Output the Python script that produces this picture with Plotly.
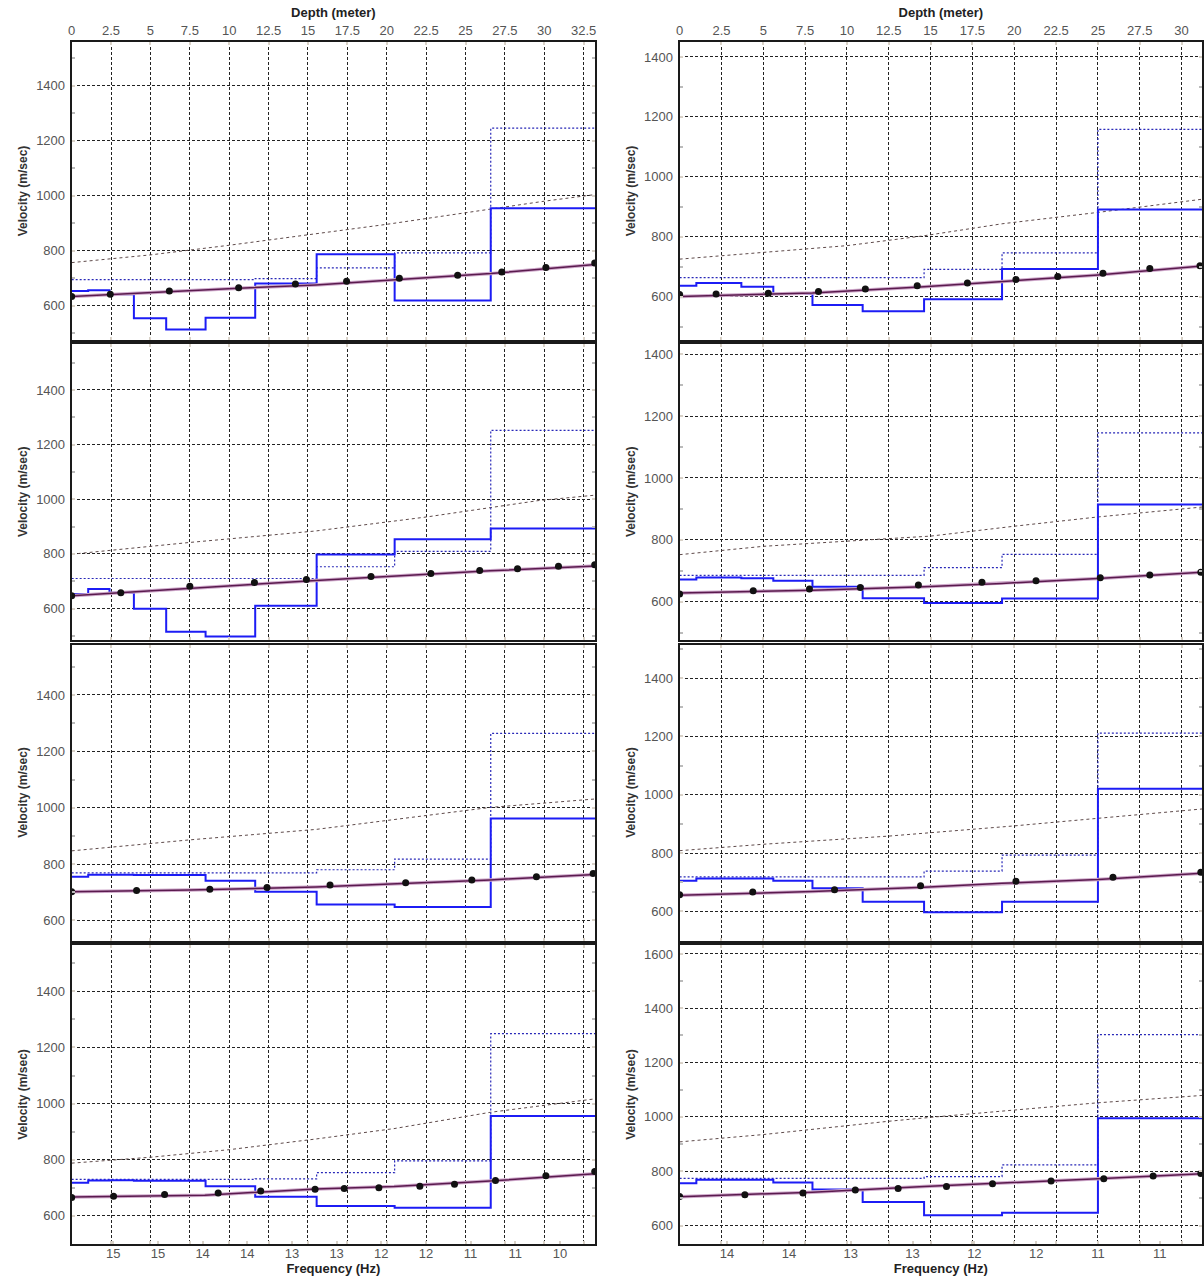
import plotly.graph_objects as go

# ---------------- data ----------------
# layer tops (depth, m) of the step models
LEFT_TOPS = [0, 1.05, 2.4, 3.95, 6.0, 8.5, 11.65, 15.55, 20.5, 26.6]
RIGHT_TOPS = [0, 1.0, 3.69, 5.6, 7.94, 10.94, 14.61, 19.27, 25.0]

# final model (solid blue), m/sec
L1_VS = [654, 657, 642, 555, 514, 557, 681, 787, 619, 954]
L2_VS = [653, 672, 658, 599, 515, 498, 610, 798, 854, 893]
L3_VS = [755, 762, 762, 761, 761, 741, 702, 657, 648, 962]
L4_VS = [718, 726, 727, 725, 725, 706, 668, 635, 629, 956]
R1_VS = [636, 645, 633, 609, 572, 551, 591, 692, 891]
R2_VS = [672, 678, 676, 668, 648, 611, 596, 610, 914]
R3_VS = [705, 713, 713, 705, 679, 633, 597, 633, 1020]
R4_VS = [756, 769, 769, 758, 733, 687, 638, 647, 995]

# initial model (dotted blue), m/sec
L1_INIT = [695, 695, 695, 695, 695, 695, 699, 738, 792, 1245]
L2_INIT = [710, 710, 710, 710, 710, 710, 710, 753, 809, 1252]
L3_INIT = [769, 769, 769, 769, 769, 769, 769, 780, 818, 1264]
L4_INIT = [730, 730, 730, 730, 730, 730, 732, 754, 796, 1249]
R1_INIT = [663, 663, 663, 663, 663, 663, 691, 746, 1158]
R2_INIT = [685, 685, 685, 685, 685, 685, 710, 753, 1146]
R3_INIT = [718, 718, 718, 718, 718, 718, 738, 793, 1211]
R4_INIT = [774, 774, 774, 774, 774, 774, 780, 823, 1303]

# upper dashed curve (depth, velocity)
L1_UP_D = [0, 5, 10, 15, 20, 25, 30, 33.22]
L1_UP_V = [757, 785, 820, 857, 896, 938, 980, 1004]
L2_UP_D = [0, 7.5, 15.5, 22.5, 29.6, 33.22]
L2_UP_V = [799, 842, 884, 935, 995, 1015]
L3_UP_D = [0, 7.5, 15.5, 26.56, 33.22]
L3_UP_V = [847, 886, 923, 1001, 1031]
L4_UP_D = [0, 5, 10, 15.5, 20.46, 26.56, 33.22]
L4_UP_V = [788, 809, 836, 874, 911, 969, 1017]
R1_UP_D = [0, 7.5, 10, 14.61, 19.27, 25, 31.22]
R1_UP_V = [725, 759, 770, 803, 843, 881, 925]
R2_UP_D = [0, 5, 12.5, 15, 20, 25, 31.22]
R2_UP_V = [752, 779, 804, 812, 844, 874, 906]
R3_UP_D = [0, 5, 12.5, 20, 25, 31.22]
R3_UP_V = [808, 830, 858, 893, 919, 951]
R4_UP_D = [0, 5, 12.5, 15.3, 25, 31.22]
R4_UP_V = [908, 935, 984, 1000, 1052, 1079]

# theoretical dispersion curve (purple)
L1_TH_D = [0, 2.4, 6, 10.6, 15.5, 20.5, 26.6, 33.22]
L1_TH_V = [634, 641, 652, 664, 676, 695, 717, 750]
L2_TH_D = [0, 7.5, 15.5, 26.56, 33.22]
L2_TH_V = [647, 675, 703, 738, 756]
L3_TH_D = [0, 7.5, 15.5, 26.56, 33.22]
L3_TH_V = [702, 708, 719, 744, 763]
L4_TH_D = [0, 8.45, 15.5, 20.46, 26.56, 33.22]
L4_TH_V = [667, 674, 696, 705, 724, 750]
R1_TH_D = [0, 7.94, 14.61, 19.27, 25, 31.22]
R1_TH_V = [600, 612, 633, 650, 672, 702]
R2_TH_D = [0, 7.94, 14.61, 19.27, 25, 31.22]
R2_TH_V = [628, 637, 648, 659, 675, 695]
R3_TH_D = [0, 7.94, 14.61, 19.27, 25, 31.22]
R3_TH_V = [655, 668, 683, 696, 709, 731]
R4_TH_D = [0, 7.94, 14.61, 19.27, 25, 31.22]
R4_TH_V = [706, 723, 744, 756, 772, 791]

# observed data (black dots)
L1_OBS_D = [0, 2.45, 6.2, 10.6, 14.2, 17.45, 20.8, 24.5, 27.3, 30.1, 33.2]
L1_OBS_V = [634, 642, 654, 666, 679, 689, 700, 711, 723, 739, 756]
L2_OBS_D = [0, 3.12, 7.5, 11.6, 14.9, 19.0, 22.8, 25.9, 28.3, 30.9, 33.2]
L2_OBS_V = [647, 658, 682, 695, 706, 717, 728, 739, 746, 755, 760]
L3_OBS_D = [0, 4.12, 8.77, 12.4, 16.4, 21.2, 25.4, 29.5, 33.1]
L3_OBS_V = [702, 706, 711, 717, 726, 734, 744, 755, 767]
L4_OBS_D = [0, 2.66, 5.9, 9.3, 12.0, 15.45, 17.3, 19.5, 22.1, 24.3, 26.9, 30.1, 33.2]
L4_OBS_V = [666, 670, 676, 682, 689, 695, 698, 700, 706, 713, 726, 743, 758]
R1_OBS_D = [0, 2.18, 5.3, 8.3, 11.1, 14.2, 17.2, 20.1, 22.6, 25.3, 28.1, 31.1]
R1_OBS_V = [607, 609, 611, 617, 625, 636, 645, 657, 667, 678, 694, 703]
R2_OBS_D = [0, 4.4, 7.76, 10.8, 14.27, 18.07, 21.3, 25.14, 28.1, 31.15]
R2_OBS_V = [625, 635, 641, 646, 654, 663, 668, 677, 686, 695]
R3_OBS_D = [0, 4.37, 9.26, 14.4, 20.1, 25.9, 31.15]
R3_OBS_V = [657, 666, 674, 688, 703, 717, 734]
R4_OBS_D = [0, 3.9, 7.37, 10.5, 13.06, 15.95, 18.7, 22.2, 25.35, 28.3, 31.15]
R4_OBS_V = [707, 713, 720, 731, 736, 744, 754, 764, 772, 782, 792]

# axis ranges
DEPTH_RANGE_L = [0, 33.22]
DEPTH_RANGE_R = [0, 31.22]
VEL_RANGES_L = [[476, 1558], [485, 1570], [529, 1579], [500, 1565]]
VEL_RANGES_R = [[455, 1450], [476, 1435], [500, 1515], [532, 1633]]

# frequency axis
FREQ_RANGE_L = [15.966, 10.107]
FREQ_RANGE_R = [14.884, 10.659]
FREQ_TICKS_L = [15.5, 15.0, 14.5, 14.0, 13.5, 13.0, 12.5, 12.0, 11.5, 11.0, 10.5]
FREQ_LABELS_L = ['15', '15', '14', '14', '13', '13', '12', '12', '11', '11', '10']
FREQ_TICKS_R = [14.5, 14.0, 13.5, 13.0, 12.5, 12.0, 11.5, 11.0]
FREQ_LABELS_R = ['14', '14', '13', '13', '12', '12', '11', '11']

# ---------------- figure ----------------
W, H = 1204, 1279
COL_X = [(68 / W, 594 / W), (679 / W, 1.0)]
ROW_PX = [(42, 340), (343.5, 640), (644.5, 940.5), (945, 1244)]
ROW_Y = [(1 - b / H, 1 - t / H) for t, b in ROW_PX]

panels = [
    (0, 0, LEFT_TOPS, L1_VS, L1_INIT, L1_UP_D, L1_UP_V, L1_TH_D, L1_TH_V, L1_OBS_D, L1_OBS_V),
    (0, 1, LEFT_TOPS, L2_VS, L2_INIT, L2_UP_D, L2_UP_V, L2_TH_D, L2_TH_V, L2_OBS_D, L2_OBS_V),
    (0, 2, LEFT_TOPS, L3_VS, L3_INIT, L3_UP_D, L3_UP_V, L3_TH_D, L3_TH_V, L3_OBS_D, L3_OBS_V),
    (0, 3, LEFT_TOPS, L4_VS, L4_INIT, L4_UP_D, L4_UP_V, L4_TH_D, L4_TH_V, L4_OBS_D, L4_OBS_V),
    (1, 0, RIGHT_TOPS, R1_VS, R1_INIT, R1_UP_D, R1_UP_V, R1_TH_D, R1_TH_V, R1_OBS_D, R1_OBS_V),
    (1, 1, RIGHT_TOPS, R2_VS, R2_INIT, R2_UP_D, R2_UP_V, R2_TH_D, R2_TH_V, R2_OBS_D, R2_OBS_V),
    (1, 2, RIGHT_TOPS, R3_VS, R3_INIT, R3_UP_D, R3_UP_V, R3_TH_D, R3_TH_V, R3_OBS_D, R3_OBS_V),
    (1, 3, RIGHT_TOPS, R4_VS, R4_INIT, R4_UP_D, R4_UP_V, R4_TH_D, R4_TH_V, R4_OBS_D, R4_OBS_V),
]

FONT = "Liberation Sans, Arial, sans-serif"
TICKFONT = dict(family=FONT, size=13, color="#555555")
TITLEFONT = dict(family=FONT, size=13, color="#222222")
GRIDDASH = "3px,2px"

fig = go.Figure()
layout = dict(
    width=W, height=H, margin=dict(l=0, r=0, t=0, b=0),
    paper_bgcolor="white", plot_bgcolor="white", showlegend=False,
    font=dict(family=FONT), hovermode=False,
)

for i, (col, row, tops, vs, init, up_d, up_v, th_d, th_v, ob_d, ob_v) in enumerate(panels):
    n = i + 1
    xa = "x" if n == 1 else f"x{n}"
    ya = "y" if n == 1 else f"y{n}"
    xr = DEPTH_RANGE_L if col == 0 else DEPTH_RANGE_R
    yr = (VEL_RANGES_L if col == 0 else VEL_RANGES_R)[row]
    xend = xr[1]

    step_x = list(tops) + [xend]
    # dashed upper curve
    fig.add_trace(go.Scatter(x=up_d, y=up_v, mode="lines", xaxis=xa, yaxis=ya,
                             line=dict(color="#5e4a4a", width=1, dash="3px,3px"),
                             hoverinfo="skip"))
    # initial model
    fig.add_trace(go.Scatter(x=step_x, y=list(init) + [init[-1]], mode="lines",
                             line_shape="hv", xaxis=xa, yaxis=ya,
                             line=dict(color="#2828b8", width=1.2, dash="2px,2px"),
                             hoverinfo="skip"))
    # final model
    fig.add_trace(go.Scatter(x=step_x, y=list(vs) + [vs[-1]], mode="lines",
                             line_shape="hv", xaxis=xa, yaxis=ya,
                             line=dict(color="#1c1cf5", width=2),
                             hoverinfo="skip"))
    # theoretical curve
    fig.add_trace(go.Scatter(x=th_d, y=th_v, mode="lines", xaxis=xa, yaxis=ya,
                             line=dict(color="#cfa9cb", width=3.5), hoverinfo="skip"))
    fig.add_trace(go.Scatter(x=th_d, y=th_v, mode="lines", xaxis=xa, yaxis=ya,
                             line=dict(color="#5a1a4e", width=1.5), hoverinfo="skip"))
    # observed
    fig.add_trace(go.Scatter(x=ob_d, y=ob_v, mode="markers", xaxis=xa, yaxis=ya,
                             marker=dict(color="#111111", size=7, symbol="circle"),
                             hoverinfo="skip"))

    xkey = "xaxis" if n == 1 else f"xaxis{n}"
    ykey = "yaxis" if n == 1 else f"yaxis{n}"
    xaxis = dict(
        domain=list(COL_X[col]), anchor=ya, range=xr, dtick=2.5, tick0=0,
        showgrid=True, gridcolor="#222222", gridwidth=1, griddash=GRIDDASH,
        zeroline=False, showline=True, mirror="ticks", linecolor="#1a1a1a", linewidth=2,
        ticks="inside", ticklen=3, tickwidth=2, tickcolor="#d9d2c8",
        tickfont=TICKFONT, showticklabels=False, fixedrange=True,
    )
    if row == 0:
        xaxis.update(side="top", showticklabels=True,
                     title=dict(text="<b>Depth (meter)</b>", font=TITLEFONT, standoff=2))
    layout[xkey] = xaxis
    layout[ykey] = dict(
        domain=list(ROW_Y[row]), anchor=xa, range=yr, dtick=200, tick0=0,
        showgrid=True, gridcolor="#222222", gridwidth=1, griddash=GRIDDASH,
        zeroline=False, showline=True, mirror="ticks", linecolor="#1a1a1a", linewidth=2,
        ticks="inside", ticklen=3, tickwidth=2, tickcolor="#d9d2c8",
        minor=dict(dtick=100, ticks="inside", ticklen=3, tickcolor="#bbbbbb", showgrid=False),
        tickfont=TICKFONT, ticklabelstandoff=2, fixedrange=True,
        title=dict(text="<b>Velocity (m/sec)</b>", font=dict(family=FONT, size=12, color="#333333"),
                   standoff=6),
    )

# frequency axes on the bottom row
for n, over, ya, fr, tv, tt in [(9, "x4", "y4", FREQ_RANGE_L, FREQ_TICKS_L, FREQ_LABELS_L),
                                (10, "x8", "y8", FREQ_RANGE_R, FREQ_TICKS_R, FREQ_LABELS_R)]:
    fig.add_trace(go.Scatter(x=[tv[0], tv[-1]], y=[1000, 1000], mode="markers",
                             xaxis=f"x{n}", yaxis=ya, marker=dict(opacity=0),
                             hoverinfo="skip"))
    layout[f"xaxis{n}"] = dict(
        overlaying=over, anchor=ya, side="bottom", range=fr,
        tickvals=tv, ticktext=tt, showgrid=False, zeroline=False,
        ticks="inside", ticklen=3, tickwidth=2, tickcolor="#d9d2c8",
        tickfont=TICKFONT, fixedrange=True,
        title=dict(text="<b>Frequency (Hz)</b>", font=TITLEFONT, standoff=2),
    )

fig.update_layout(**layout)
fig.write_html("out.html",
               config={"displayModeBar": False, "staticPlot": True},
               post_script="document.body.style.margin='0px';document.body.style.padding='0px';")
